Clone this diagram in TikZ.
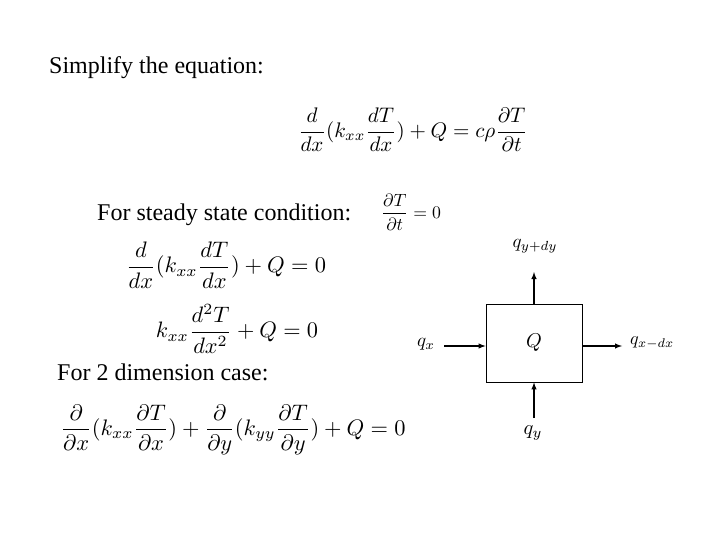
\documentclass[tikz,border=0pt]{standalone}
\usepackage{fontspec}
\usepackage{amsmath}
\setmainfont{Liberation Serif}
\begin{document}
\begin{tikzpicture}[x=1pt,y=-1pt,
  txt/.style={anchor=west,inner sep=0pt,font=\fontsize{24}{28}\selectfont},
  eq/.style={inner sep=0pt},
  lab/.style={inner sep=0pt},
  arr/.style={-latex,line width=1.4pt}]
\useasboundingbox (0,0) rectangle (720,540);
\node[txt] (t1) at (49,68) {Simplify the equation:};
\node[eq] (e1) at (413,130) {\resizebox{230pt}{!}{$\dfrac{d}{dx}(k_{xx}\dfrac{dT}{dx})+Q=c\rho\dfrac{\partial T}{\partial t}$}};
\node[txt] (t2) at (97,215) {For steady state condition:};
\node[eq] (e0) at (411,212) {\resizebox{60pt}{!}{$\dfrac{\partial T}{\partial t}=0$}};
\node[eq] (e2) at (226,265) {\resizebox{200pt}{!}{$\dfrac{d}{dx}(k_{xx}\dfrac{dT}{dx})+Q=0$}};
\node[eq] (e3) at (237,329) {\resizebox{162pt}{!}{$k_{xx}\dfrac{d^2T}{dx^2}+Q=0$}};
\node[txt] (t3) at (57,372) {For 2 dimension case:};
\node[eq] (e4) at (233,430) {\resizebox{345pt}{!}{$\dfrac{\partial}{\partial x}(k_{xx}\dfrac{\partial T}{\partial x})+\dfrac{\partial}{\partial y}(k_{yy}\dfrac{\partial T}{\partial y})+Q=0$}};
\node[draw,line width=0.8pt,minimum width=96pt,minimum height=78pt,inner sep=0pt] (box) at (534,343) {\scalebox{2}{$Q$}};
\node[lab] (qt) at (535,246) {\resizebox{45pt}{!}{$q_{y+dy}$}};
\node[lab] (ql) at (426,344) {\resizebox{18pt}{!}{$q_x$}};
\node[lab,anchor=west] (qr) at (630,343) {\resizebox{44pt}{!}{$q_{x-dx}$}};
\node[lab] (qb) at (533,433) {\resizebox{19pt}{!}{$q_y$}};
\coordinate (ct) at (534,272);
\coordinate (cl) at (444,346);
\coordinate (cr) at (622,346);
\coordinate (cb) at (534,418);
\draw[arr] (box.north) -- (ct);
\draw[arr] (cl) -- (box.west|-cl);
\draw[arr] (box.east|-cr) -- (cr);
\draw[arr] (cb) -- (box.south);
\end{tikzpicture}
\end{document}
